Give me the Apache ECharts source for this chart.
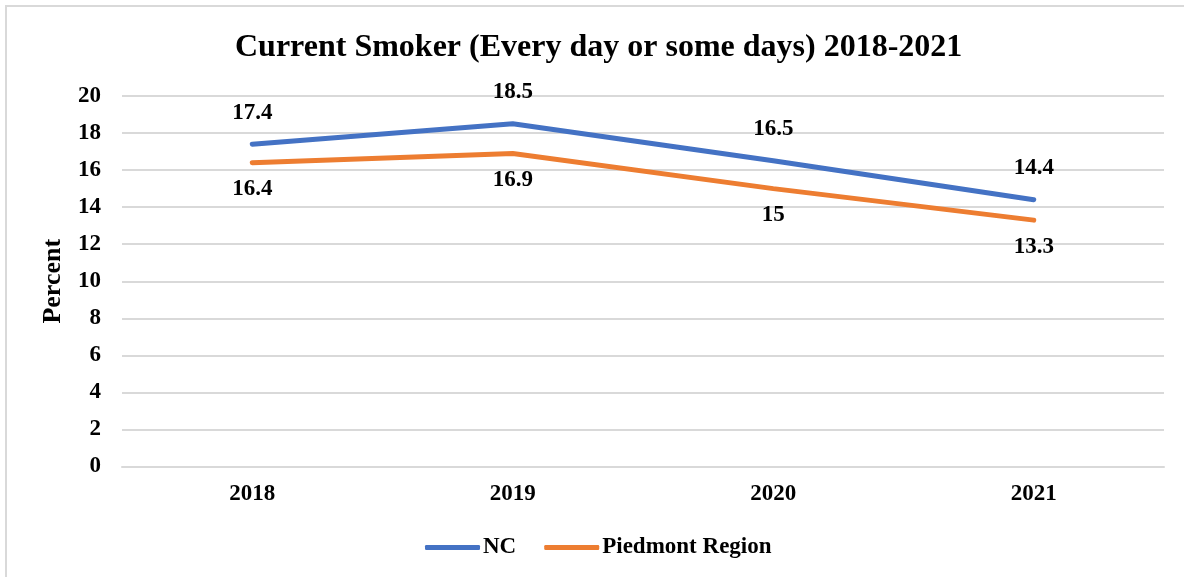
<!DOCTYPE html>
<html>
<head>
<meta charset="utf-8">
<script src="https://cdn.jsdelivr.net/npm/echarts@6/dist/echarts.min.js"></script>
<style>
  html, body { margin: 0; padding: 0; background: #fff; }
  #frame { position: absolute; left: 5px; top: 5px; width: 1200px; height: 600px; border: 2px solid #d9d9d9; box-sizing: border-box; }
  #chart { position: absolute; left: 0; top: 0; width: 1184px; height: 577px; }
</style>
</head>
<body>
<div id="frame"></div>
<div id="chart"></div>
<script>
// data
const years = ['2018', '2019', '2020', '2021']
const ncValues = [17.4, 18.5, 16.5, 14.4]
const piedmontValues = [16.4, 16.9, 15, 13.3]

const font = '"Liberation Serif", "DejaVu Serif", serif'

const myChart = echarts.init(document.getElementById('chart'))
myChart.setOption({
    animation: false,
    title: {
        text: 'Current Smoker (Every day or some days) 2018-2021',
        left: 230,
        top: 27,
        textStyle: { fontFamily: font, fontWeight: 'bold', fontSize: 32, color: '#000' }
    },
    legend: {
        top: 536,
        left: 425,
        padding: 0,
        itemWidth: 55,
        itemHeight: 5,
        itemGap: 28,
        icon: 'roundRect',
        textStyle: { fontFamily: font, fontWeight: 'bold', fontSize: 23, color: '#000', padding: [0, 0, 0, -2] },
        data: ['NC', 'Piedmont Region']
    },
    grid: { left: 122, right: 20, top: 96, bottom: 110.5 },
    xAxis: {
        type: 'category',
        data: years,
        boundaryGap: true,
        axisLine: { lineStyle: { color: '#d9d9d9', width: 2 } },
        axisTick: { show: false },
        axisLabel: { fontFamily: font, fontWeight: 'bold', fontSize: 23, color: '#000', margin: 16 }
    },
    yAxis: {
        type: 'value',
        min: 0,
        max: 20,
        interval: 2,
        name: 'Percent',
        nameLocation: 'middle',
        nameGap: 56,
        nameTextStyle: { fontFamily: font, fontWeight: 'bold', fontSize: 26, color: '#000' },
        axisLine: { show: false },
        axisTick: { show: false },
        splitLine: { lineStyle: { color: '#d9d9d9', width: 2 } },
        axisLabel: { fontFamily: font, fontWeight: 'bold', fontSize: 23, color: '#000', margin: 21 }
    },
    series: [{
        name: 'NC',
        type: 'line',
        data: ncValues,
        symbol: 'circle',
        symbolSize: 0,
        color: '#4472C4',
        lineStyle: { width: 5, color: '#4472C4', cap: 'round' },
        label: {
            show: true, position: 'top', distance: 20,
            fontFamily: font, fontWeight: 'bold', fontSize: 23, color: '#000'
        }
    }, {
        name: 'Piedmont Region',
        type: 'line',
        data: piedmontValues,
        symbol: 'circle',
        symbolSize: 0,
        color: '#ED7D31',
        lineStyle: { width: 5, color: '#ED7D31', cap: 'round' },
        label: {
            show: true, position: 'bottom', distance: 15,
            fontFamily: font, fontWeight: 'bold', fontSize: 23, color: '#000'
        }
    }]
})
</script>
</body>
</html>
